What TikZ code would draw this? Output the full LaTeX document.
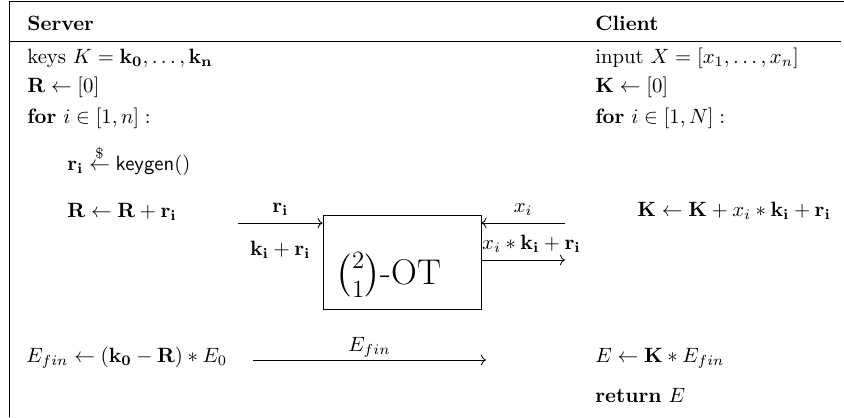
\documentclass[tikz,border=0pt]{standalone}
\usepackage{amsmath}
\usetikzlibrary{arrows.meta, positioning, calc}

\begin{document}
\begin{tikzpicture}[x=0.483pt, y=-0.483pt,
    txt/.style={anchor=base west, inner sep=0pt},
    otbox/.style={draw, minimum width=76.3pt, minimum height=45.4pt, inner sep=0pt}]
    \useasboundingbox (0,0) rectangle (844,417);
    \coordinate (tl) at (9.5,1);
    \coordinate (tr) at (844,1);
    \coordinate (bl) at (9.5,417);
    \coordinate (hl) at (9.5,41);
    \coordinate (hr) at (841,41);
    \draw (tr) -- (tl) -- (bl);
    \draw (hl) -- (hr);
    % server side
    \node[txt] (server) at (27,30) {\textbf{Server}};
    \node[txt] (keys) at (27,63) {keys $K = \mathbf{k_0}, \dots, \mathbf{k_n}$};
    \node[txt] (rinit) at (27,92) {$\mathbf{R} \leftarrow [0]$};
    \node[txt] (sfor) at (27,123) {\textbf{for} $i \in [1, n]:$};
    \node[txt] (keygen) at (67,170) {$\mathbf{r_i} \stackrel{\$}{\leftarrow} \textsf{keygen}()$};
    \node[txt] (radd) at (67,217) {$\mathbf{R} \leftarrow \mathbf{R} + \mathbf{r_i}$};
    \node[txt] (efin) at (26,362) {$E_{fin} \leftarrow (\mathbf{k_0} - \mathbf{R}) * E_0$};
    % client side
    \node[txt] (client) at (595,30) {\textbf{Client}};
    \node[txt] (input) at (595,63) {input $X = [x_1, \dots, x_n]$};
    \node[txt] (kinit) at (595,92) {$\mathbf{K} \leftarrow [0]$};
    \node[txt] (cfor) at (595,123) {\textbf{for} $i \in [1, N]:$};
    \node[txt] (kadd) at (637,216) {$\mathbf{K} \leftarrow \mathbf{K} + x_i * \mathbf{k_i} + \mathbf{r_i}$};
    \node[txt] (efinal) at (595,362) {$E \leftarrow \mathbf{K} * E_{fin}$};
    \node[txt] (ret) at (595,402) {\textbf{return} $E$};
    % oblivious transfer
    \node[otbox] (ot) at (402,262) {};
    \node[font=\LARGE] (otlabel) at (388.5,275) {$\binom{2}{1}$-OT};
    \coordinate (rin) at (238,223);
    \coordinate (xin) at (565,223);
    \coordinate (xout) at (565,260);
    \coordinate (efa) at (253,360);
    \coordinate (efb) at (486,360);
    \draw[->] (rin) -- (rin -| ot.west)
        node[midway, above] {$\mathbf{r_i}$}
        node[midway, below=5pt] {$\mathbf{k_i} + \mathbf{r_i}$};
    \draw[->] (xin) -- (xin -| ot.east) node[midway, above] {$x_i$};
    \draw[->] (xout -| ot.east) -- (xout)
        node[midway, above, xshift=4pt] {$x_i * \mathbf{k_i} + \mathbf{r_i}$};
    \draw[->] (efa) -- (efb) node[midway, above, inner sep=1pt] {$E_{fin}$};
\end{tikzpicture}
\end{document}
